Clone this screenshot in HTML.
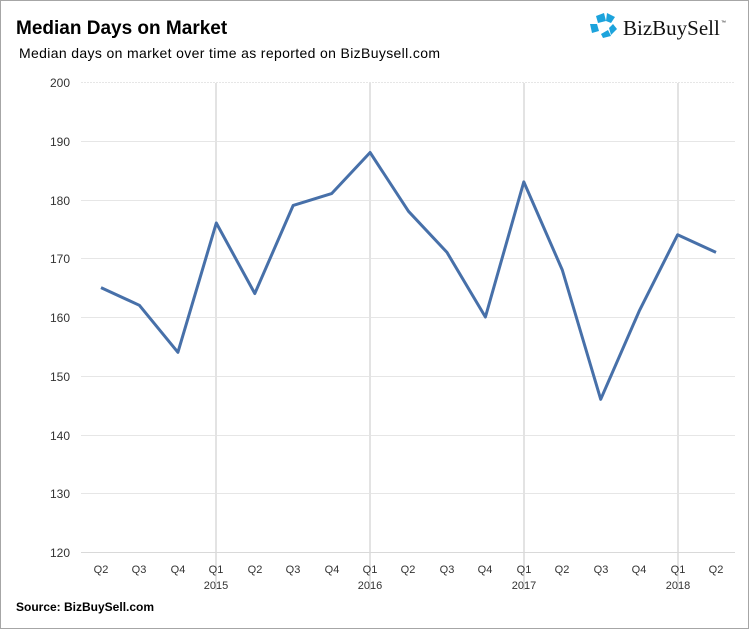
<!DOCTYPE html>
<html><head><style>
body{margin:0;background:#fff}
svg{display:block;font-family:"Liberation Sans",Arial,sans-serif}
</style></head><body>
<svg width="749" height="629" viewBox="0 0 749 629">
<rect x="0.5" y="0.5" width="748" height="628" fill="#fff" stroke="#a6a6a6"/>
<text x="16" y="34" font-size="19" font-weight="bold" fill="#000">Median Days on Market</text>
<text x="19" y="58" font-size="14" fill="#000" textLength="421" lengthAdjust="spacing">Median days on market over time as reported on BizBuysell.com</text>
<g fill="#1ca3dc">
<polygon points="596,16 604,13 606,21 598,23"/>
<polygon points="607,13 615,17 611,23 606,21"/>
<polygon points="613,24 617,29 611,35 609,28"/>
<polygon points="601,34 608,30 611,36 603,38"/>
<polygon points="590,24 597,24 599,31 592,33"/>
</g>
<text x="623" y="35" font-family="Liberation Serif,serif" font-size="21" fill="#111">BizBuySell</text>
<text x="721" y="24" font-size="5" fill="#111">™</text>
<g stroke="#e6e6e6" stroke-width="1">
<line x1="81" y1="82.5" x2="735" y2="82.5" stroke-dasharray="2,1"/>
<line x1="81" y1="141.5" x2="735" y2="141.5"/>
<line x1="81" y1="200.5" x2="735" y2="200.5"/>
<line x1="81" y1="258.5" x2="735" y2="258.5"/>
<line x1="81" y1="317.5" x2="735" y2="317.5"/>
<line x1="81" y1="376.5" x2="735" y2="376.5"/>
<line x1="81" y1="435.5" x2="735" y2="435.5"/>
<line x1="81" y1="493.5" x2="735" y2="493.5"/>
</g>
<g stroke="#e3e3e3" stroke-width="2">
<line x1="216" y1="83" x2="216" y2="590"/>
<line x1="370" y1="83" x2="370" y2="590"/>
<line x1="524" y1="83" x2="524" y2="590"/>
<line x1="678" y1="83" x2="678" y2="590"/>
</g>
<line x1="81" y1="552.5" x2="735" y2="552.5" stroke="#d9d9d9"/>
<g font-size="12" fill="#333" text-anchor="end">
<text x="70" y="87">200</text><text x="70" y="146">190</text><text x="70" y="205">180</text>
<text x="70" y="263">170</text><text x="70" y="322">160</text><text x="70" y="381">150</text>
<text x="70" y="440">140</text><text x="70" y="498">130</text><text x="70" y="557">120</text>
</g>
<g font-size="11" fill="#333" text-anchor="middle">
<text x="101" y="573">Q2</text><text x="139" y="573">Q3</text><text x="178" y="573">Q4</text><text x="216" y="573">Q1</text>
<text x="255" y="573">Q2</text><text x="293" y="573">Q3</text><text x="332" y="573">Q4</text><text x="370" y="573">Q1</text>
<text x="408" y="573">Q2</text><text x="447" y="573">Q3</text><text x="485" y="573">Q4</text><text x="524" y="573">Q1</text>
<text x="562" y="573">Q2</text><text x="601" y="573">Q3</text><text x="639" y="573">Q4</text><text x="678" y="573">Q1</text>
<text x="716" y="573">Q2</text>
<text x="216" y="589">2015</text><text x="370" y="589">2016</text><text x="524" y="589">2017</text><text x="678" y="589">2018</text>
</g>
<polyline fill="none" stroke="#4770a9" stroke-width="3" stroke-linejoin="round"
points="101,287.6 139.4,305.3 177.9,352.3 216.3,223 254.8,293.5 293.2,205.4 331.6,193.6 370.1,152.5 408.5,211.3 447,252.4 485.4,317 523.8,181.9 562.3,270 600.7,399.3 639.2,311.1 677.6,234.8 716,252.4"/>
<text x="16" y="611" font-size="12" font-weight="bold" fill="#000">Source: BizBuySell.com</text>
</svg>
</body></html>
